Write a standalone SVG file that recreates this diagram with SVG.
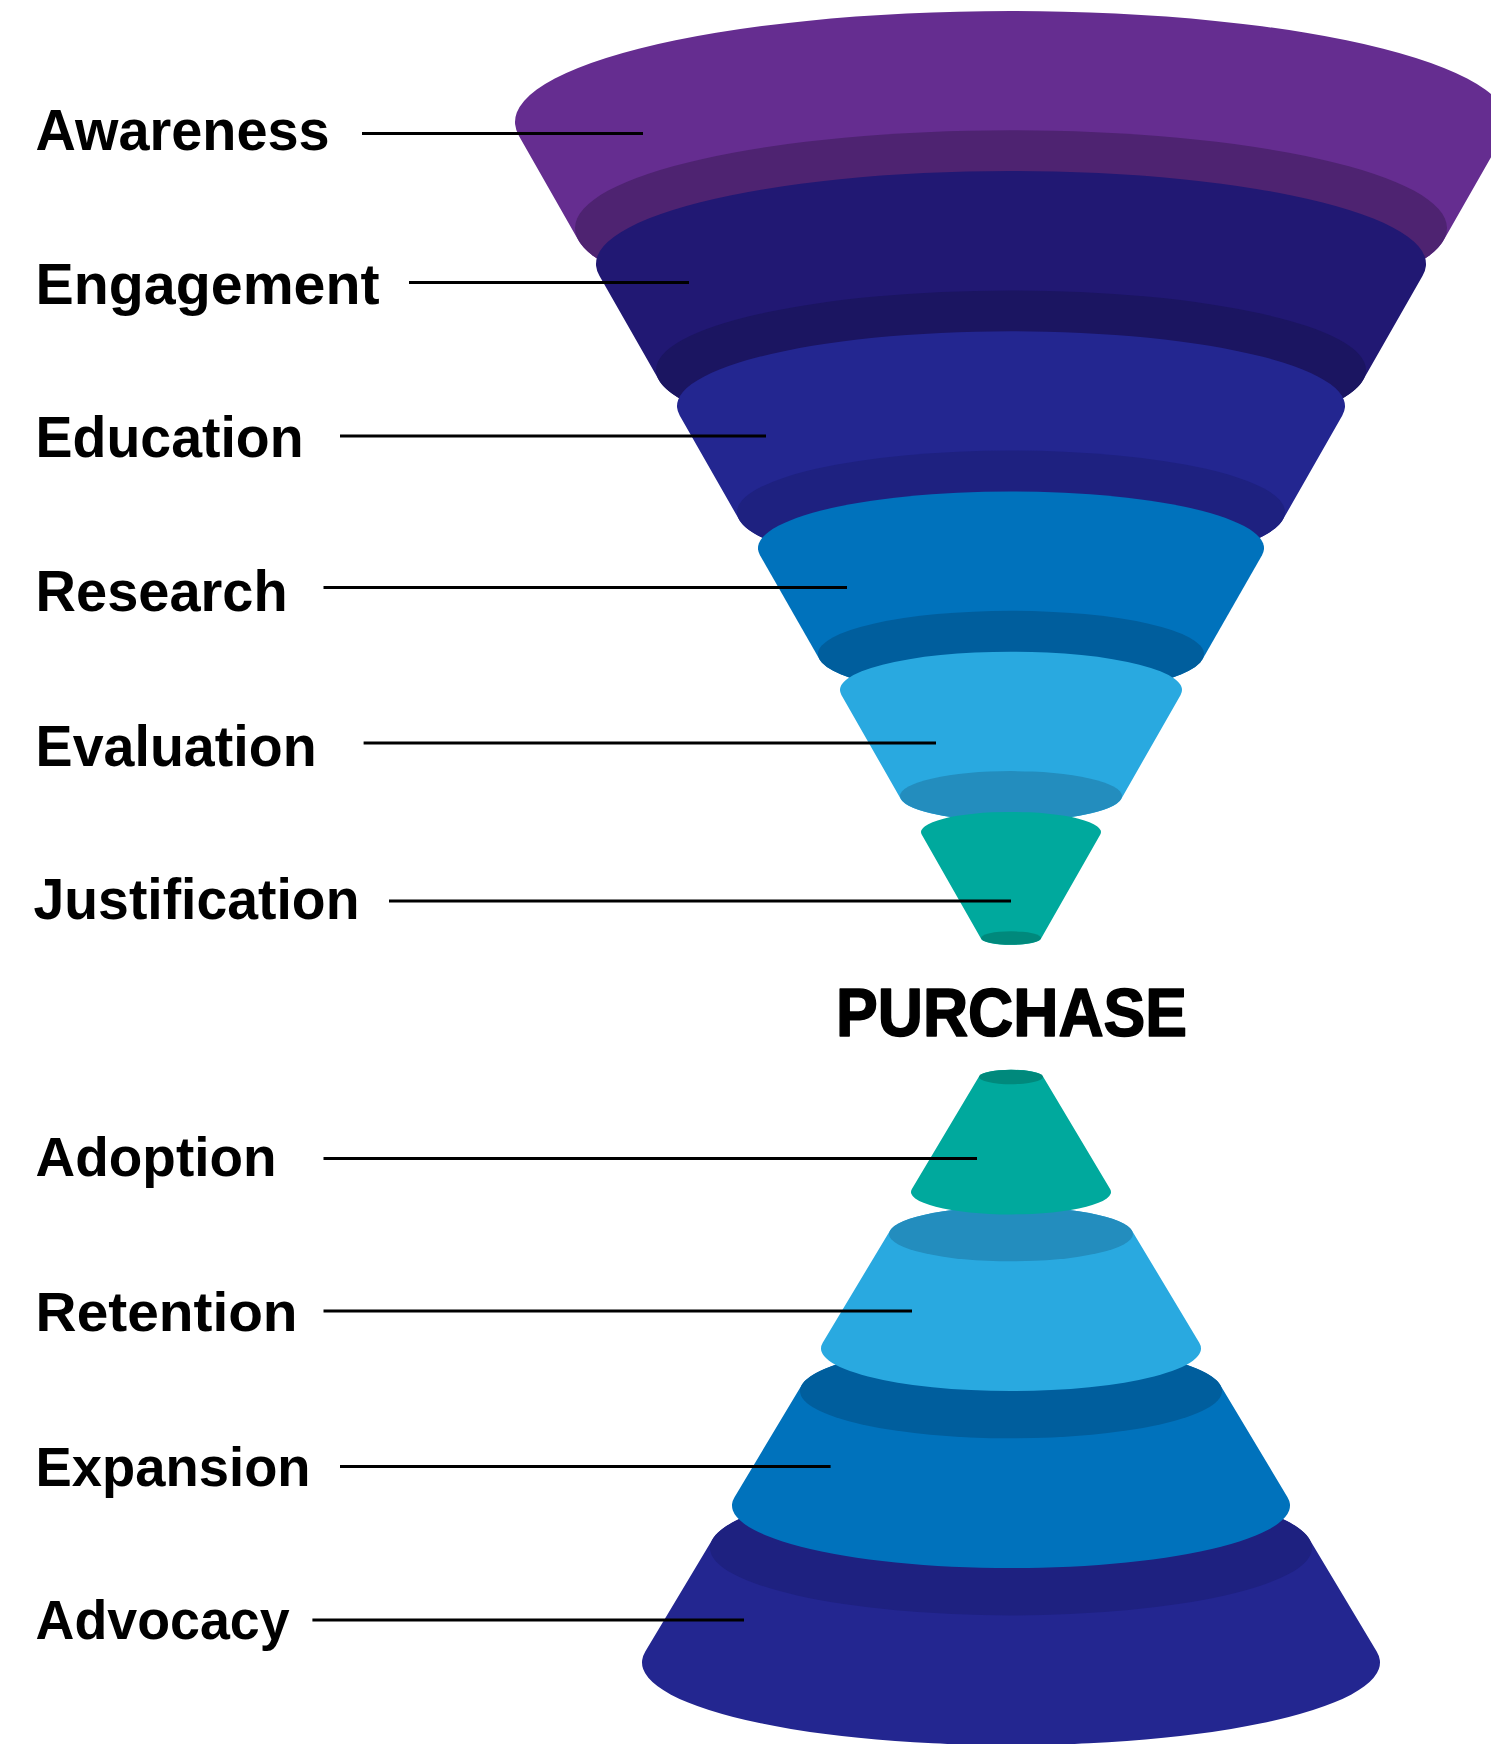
<svg xmlns="http://www.w3.org/2000/svg" width="1491" height="1744" viewBox="0 0 1491 1744">
  <style>
    .lbl { font-family: "Liberation Sans", Arial, sans-serif; font-weight: bold; fill: #000; }
    .top { font-size: 58px; }
    .bot { font-size: 56px; }
    .head { font-family: "Liberation Sans", Arial, sans-serif; font-weight: 900; font-size: 68px; fill: #000; stroke: #000; stroke-width: 1.6; stroke-linejoin: round; }
    .lead { stroke: #000; stroke-width: 3; fill: none; }
    .c-purple { fill: #652D90; } .d-purple { fill: #4E2371; }
    .c-indigo { fill: #211873; } .d-indigo { fill: #1B1561; }
    .c-navy { fill: #232690; } .d-navy { fill: #1E2180; }
    .c-blue { fill: #0072BC; } .d-blue { fill: #005E9D; }
    .c-sky { fill: #29A9E0; } .d-sky { fill: #238DBE; }
    .c-teal { fill: #00A99D; } .d-teal { fill: #00897C; }
  </style>
  <rect width="1491" height="1744" fill="#fff"/>

  <!-- upper funnel: each band is the hull of its top face and its darker bottom face -->
  <g id="awareness">
    <path class="c-purple" d="M519,136.1 A496,111 0 1 1 1503,136.1 L1443.5,240.4 A436,97.7 0 0 1 578.5,240.4 Z"/>
    <ellipse class="d-purple" cx="1011" cy="228" rx="436" ry="97.7"/>
  </g>
  <g id="engagement">
    <path class="c-indigo" d="M599.4,275.8 A415,93 0 1 1 1422.6,275.8 L1363.1,380.1 A355,79.5 0 0 1 658.9,380.1 Z"/>
    <ellipse class="d-indigo" cx="1011" cy="370" rx="355" ry="79.5"/>
  </g>
  <g id="education">
    <path class="c-navy" d="M679.7,415.5 A334,74.8 0 1 1 1342.3,415.5 L1282.8,519.8 A274,61.4 0 0 1 739.2,519.8 Z"/>
    <ellipse class="d-navy" cx="1011" cy="512" rx="274" ry="61.4"/>
  </g>
  <g id="research">
    <path class="c-blue" d="M760,555.2 A253,56.7 0 1 1 1262,555.2 L1202.4,659.5 A193,43.2 0 0 1 819.6,659.5 Z"/>
    <ellipse class="d-blue" cx="1011" cy="654" rx="193" ry="43.2"/>
  </g>
  <g id="evaluation">
    <path class="c-sky" d="M841.4,694.9 A171,38.3 0 1 1 1180.6,694.9 L1121.1,799.2 A111,24.9 0 0 1 900.9,799.2 Z"/>
    <ellipse class="d-sky" cx="1011" cy="796" rx="111" ry="24.9"/>
  </g>
  <g id="justification">
    <path class="c-teal" d="M921.7,834.6 A90,20.2 0 1 1 1100.3,834.6 L1040.8,938.9 A30,6.7 0 0 1 981.2,938.9 Z"/>
    <ellipse class="d-teal" cx="1011" cy="938" rx="30" ry="6.7"/>
  </g>

  <!-- lower cone, drawn from the base upward: widening body with a darker top face -->
  <g id="advocacy">
    <path class="c-navy" d="M712.7,1539 A301,67.4 0 0 1 1309.3,1539 L1376.7,1651.5 A369,82.7 0 1 1 645.3,1651.5 Z"/>
    <ellipse class="d-navy" cx="1011" cy="1548" rx="301" ry="67.4"/>
  </g>
  <g id="expansion">
    <path class="c-blue" d="M801.9,1384.7 A211,47.3 0 0 1 1220.1,1384.7 L1287.5,1497.2 A279,62.5 0 1 1 734.5,1497.2 Z"/>
    <ellipse class="d-blue" cx="1011" cy="1391" rx="211" ry="47.3"/>
  </g>
  <g id="retention">
    <path class="c-sky" d="M890.1,1230.4 A122,27.3 0 0 1 1131.9,1230.4 L1199.3,1342.8 A190,42.6 0 1 1 822.7,1342.8 Z"/>
    <ellipse class="d-sky" cx="1011" cy="1234" rx="122" ry="27.3"/>
  </g>
  <g id="adoption">
    <path class="c-teal" d="M979.3,1076 A32,7.2 0 0 1 1042.7,1076 L1110.1,1189 A100,22.4 0 1 1 911.9,1189 Z"/>
    <ellipse class="d-teal" cx="1011" cy="1077" rx="32" ry="7.2"/>
  </g>

  <!-- leader lines -->
  <g id="connectors">
    <line class="lead" x1="362" y1="133.4" x2="643" y2="133.4"/>
    <line class="lead" x1="409" y1="282.4" x2="689" y2="282.4"/>
    <line class="lead" x1="340" y1="436" x2="766" y2="436"/>
    <line class="lead" x1="323.5" y1="587.5" x2="847" y2="587.5"/>
    <line class="lead" x1="363.6" y1="743" x2="936" y2="743"/>
    <line class="lead" x1="389" y1="901" x2="1011" y2="901"/>
    <line class="lead" x1="323.5" y1="1158.6" x2="977" y2="1158.6"/>
    <line class="lead" x1="323.5" y1="1311" x2="912" y2="1311"/>
    <line class="lead" x1="340" y1="1466.6" x2="830.6" y2="1466.6"/>
    <line class="lead" x1="312.4" y1="1620" x2="744" y2="1620"/>
  </g>

  <!-- stage labels -->
  <g id="labels">
    <text class="lbl top" x="35.6" y="150" textLength="294" lengthAdjust="spacingAndGlyphs">Awareness</text>
    <text class="lbl top" x="35.6" y="303.5" textLength="344" lengthAdjust="spacingAndGlyphs">Engagement</text>
    <text class="lbl top" x="35.6" y="457" textLength="268" lengthAdjust="spacingAndGlyphs">Education</text>
    <text class="lbl top" x="35.6" y="610.5" textLength="252" lengthAdjust="spacingAndGlyphs">Research</text>
    <text class="lbl top" x="35.6" y="766" textLength="281" lengthAdjust="spacingAndGlyphs">Evaluation</text>
    <text class="lbl top" x="33.5" y="918.5" textLength="326" lengthAdjust="spacingAndGlyphs">Justification</text>
    <text class="lbl bot" x="35.6" y="1176" textLength="241" lengthAdjust="spacingAndGlyphs">Adoption</text>
    <text class="lbl bot" x="35.6" y="1331" textLength="262" lengthAdjust="spacingAndGlyphs">Retention</text>
    <text class="lbl bot" x="35.6" y="1485.5" textLength="275" lengthAdjust="spacingAndGlyphs">Expansion</text>
    <text class="lbl bot" x="35.6" y="1639" textLength="254" lengthAdjust="spacingAndGlyphs">Advocacy</text>
  </g>
  <g id="purchase">
    <text class="head" x="836" y="1036" textLength="351" lengthAdjust="spacingAndGlyphs">PURCHASE</text>
  </g>
</svg>
